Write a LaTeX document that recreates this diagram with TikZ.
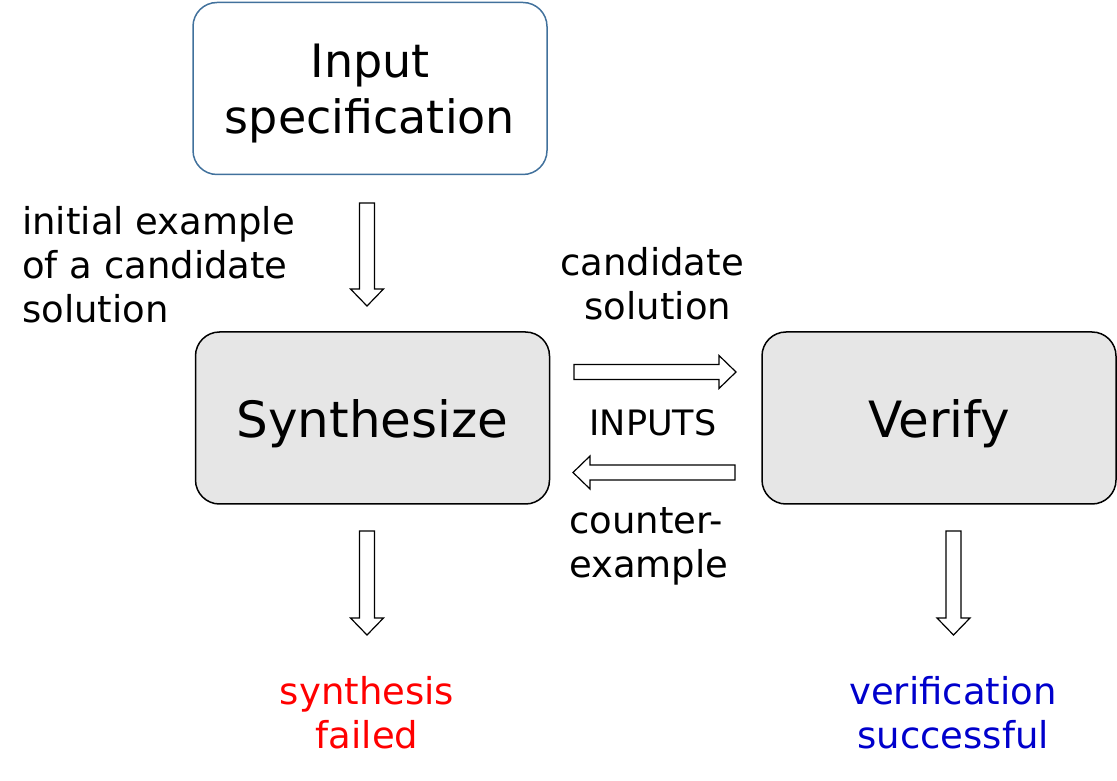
\documentclass[tikz,border=0pt]{standalone}
\usepackage{fontspec}
\setmainfont{DejaVu Sans}
\definecolor{specblue}{RGB}{65,113,156}
\definecolor{boxgray}{RGB}{230,230,230}
\definecolor{okblue}{RGB}{0,0,204}
\newcommand{\blockarr}[5]{% name, x, y, angle, length
\draw[blockarrow, shift={(#2,#3)}, rotate=#4] (0,-7.5) -- (#5-17,-7.5) -- (#5-17,-16.5) -- (#5,0) -- (#5-17,16.5) -- (#5-17,7.5) -- (0,7.5) -- cycle;
\coordinate (#1) at (#2,#3);}
\begin{document}
\begin{tikzpicture}[x=1pt,y=1pt,
  box/.style={draw, rounded corners=24pt, minimum width=354pt, minimum height=172pt, line width=1.5pt, inner sep=0pt},
  blockarrow/.style={draw=black, fill=white, line width=1.2pt, line join=miter},
  lbl/.style={font=\fontsize{37}{44}\selectfont, inner sep=0pt},
  big/.style={font=\fontsize{50}{60}\selectfont},
]
\useasboundingbox (0,0) rectangle (1117,780);
\node[box, draw=specblue, fill=white] (spec) at (370,691.5) {};
\node[align=center, font=\fontsize{46}{56}\selectfont] (spect) at (370,686.5) {Input\\specification};
\node[box, fill=boxgray] (syn) at (372.5,362) {};
\node[big] (synt) at (372.5,356) {Synthesize};
\node[box, fill=boxgray] (ver) at (939,362) {};
\node[big] (vert) at (939,356) {Verify};

\node[lbl, align=left, anchor=west] (init) at (22,515) {initial example\\of a candidate\\solution};
\node[lbl, align=center] (cand) at (652,496.5) {candidate\\\ solution};
\node[lbl, font=\fontsize{35}{42}\selectfont] (inp) at (653,357) {INPUTS};
\node[lbl, align=left, anchor=west] (cex) at (569,234) {counter-\\example};
\node[lbl, align=center, text=red] (fail) at (367,67) {synthesis\\failed};
\node[lbl, align=center, text=okblue] (succ) at (953,67) {verification\\successful};

\blockarr{a1}{367}{577}{-90}{103}
\blockarr{a2}{367}{249}{-90}{104}
\blockarr{a3}{953.5}{249}{-90}{104}
\blockarr{a4}{574}{408}{0}{162}
\blockarr{a5}{735}{307.5}{180}{162}
\end{tikzpicture}
\end{document}
